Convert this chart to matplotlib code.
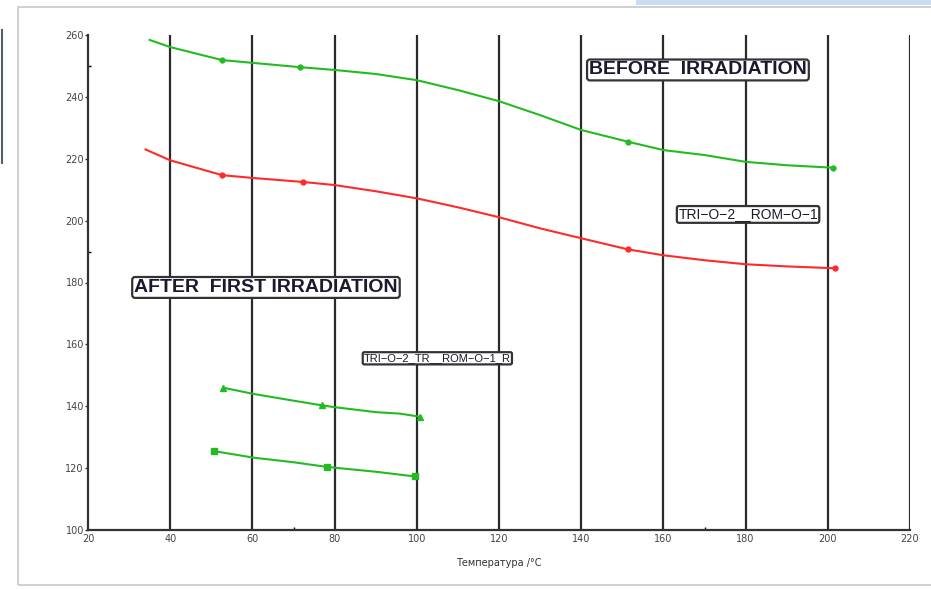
import matplotlib
matplotlib.use("Agg")
import matplotlib.pyplot as plt
from matplotlib.patches import Rectangle
from matplotlib.lines import Line2D

# ---------------- data ----------------
before_top_x = [35, 40, 52.6, 60, 71.6, 80, 90, 100, 110, 120, 130, 140, 151.4, 160, 170, 180, 190, 201.3]
before_top_y = [258.4, 256.1, 251.9, 251.0, 249.6, 248.7, 247.4, 245.4, 242.2, 238.6, 234.1, 229.3, 225.5, 222.8, 221.2, 219.0, 217.9, 217.1]
before_top_marks = [2, 4, 12, 17]

before_bot_x = [34, 40, 52.6, 60, 72.3, 80, 90, 100, 110, 120, 130, 140, 151.4, 160, 170, 180, 190, 201.8]
before_bot_y = [223.0, 219.5, 214.7, 213.8, 212.5, 211.5, 209.5, 207.2, 204.3, 201.1, 197.5, 194.3, 190.7, 188.8, 187.2, 185.9, 185.2, 184.6]
before_bot_marks = [2, 4, 12, 17]

after_top_x = [52.9, 60.2, 70, 76.9, 80, 90, 96, 100.8]
after_top_y = [146.0, 144.0, 141.8, 140.3, 139.7, 138.1, 137.6, 136.6]
after_top_marks = [0, 3, 7]

after_bot_x = [50.7, 60.2, 70, 78.1, 90.2, 99.6]
after_bot_y = [125.5, 123.4, 121.9, 120.4, 118.8, 117.3]
after_bot_marks = [0, 3, 5]

x_ticks = [20, 40, 60, 80, 100, 120, 140, 160, 180, 200, 220]
y_ticks = [100, 120, 140, 160, 180, 200, 220, 240, 260]
x_label = "Температура /°С"

labels = [
    ("BEFORE  IRRADIATION", 168.4, 248.7, 14, "bold"),
    ("TRI−O−2__ROM−O−1", 180.6, 202.0, 10, "normal"),
    ("AFTER  FIRST IRRADIATION", 63.3, 178.4, 14, "bold"),
    ("TRI−O−2_TR__ROM−O−1_R", 105.0, 155.5, 8, "normal"),
]

# ---------------- figure ----------------
W, H = 931, 589
fig = plt.figure(figsize=(W / 100, H / 100), dpi=100)
fig.patch.set_facecolor("white")

# outer window decorations
fig.add_artist(Rectangle((18 / W, 4 / H), 1 - 18 / W + 0.01, (585 - 7) / H,
                         transform=fig.transFigure, facecolor="none",
                         edgecolor="#c8c8c8", lw=1.2))
fig.add_artist(Rectangle((636 / W, 1 - 5 / H), 1 - 636 / W, 5 / H,
                         transform=fig.transFigure, facecolor="#c9dcf2",
                         edgecolor="none"))
fig.add_artist(Line2D([1.5 / W, 1.5 / W], [1 - 30 / H, 1 - 163 / H],
                      transform=fig.transFigure, color="#55606a", lw=1.5))

ax = fig.add_axes([88 / W, 59 / H, (910 - 88) / W, (530 - 35) / H])
ax.set_xlim(20, 220)
ax.set_ylim(100, 260)

for sp in ["top", "right"]:
    ax.spines[sp].set_visible(False)
for sp in ["left", "bottom"]:
    ax.spines[sp].set_color("#333333")
    ax.spines[sp].set_linewidth(1.6)

for xv in x_ticks[1:]:
    ax.axvline(xv, color="#2a2a2a", lw=1.6, zorder=1)

ax.set_xticks(x_ticks)
ax.set_yticks(y_ticks)
ax.set_xticks([70, 170], minor=True)
ax.set_yticks([190, 250], minor=True)
ax.tick_params(axis="both", which="major", labelsize=7, length=2,
               width=1, color="#333333", labelcolor="#444444", pad=1)
ax.tick_params(axis="x", which="major", length=0, pad=3)
ax.tick_params(axis="both", which="minor", length=2, direction="in", width=1)

green = "#22bb22"
red = "#ff2a2a"

ax.plot(before_top_x, before_top_y, color=green, lw=1.5, marker="o",
        ms=3.5, markevery=before_top_marks, zorder=3)
ax.plot(before_bot_x, before_bot_y, color=red, lw=1.5, marker="o",
        ms=3.5, markevery=before_bot_marks, zorder=3)
ax.plot(after_top_x, after_top_y, color=green, lw=1.5, marker="^",
        ms=4, markevery=after_top_marks, zorder=3)
ax.plot(after_bot_x, after_bot_y, color=green, lw=1.5, marker="s",
        ms=4, markevery=after_bot_marks, zorder=3)

fam = ["Liberation Sans", "DejaVu Sans"]
for txt, xv, yv, fs, wt in labels:
    ax.text(xv, yv, txt, ha="center", va="center", fontsize=fs,
            fontweight=wt, family=fam, color="#1a1a2e", zorder=5,
            bbox=dict(boxstyle="round,pad=0.1,rounding_size=0.15",
                      facecolor="white", edgecolor="#333333", lw=1.6))

ax.set_xlabel(x_label, fontsize=7, color="#333333", labelpad=10)

fig.savefig("out.png", dpi=100)
